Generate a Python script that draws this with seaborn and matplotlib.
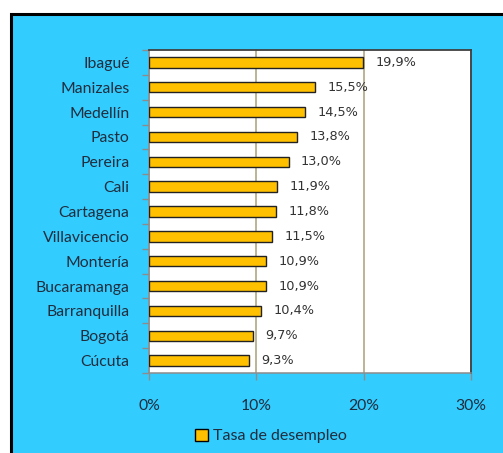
import numpy as np
import seaborn as sns
import matplotlib.pyplot as plt
from matplotlib.patches import Rectangle, Patch

# Tasa de desempleo por ciudad (%)
ciudades = ['Ibagué', 'Manizales', 'Medellín', 'Pasto', 'Pereira', 'Cali',
            'Cartagena', 'Villavicencio', 'Montería', 'Bucaramanga',
            'Barranquilla', 'Bogotá', 'Cúcuta']
tasa = [19.9, 15.5, 14.5, 13.8, 13.0, 11.9, 11.8, 11.5, 10.9, 10.9, 10.4, 9.7, 9.3]
x_ticks = [0, 10, 20, 30]
x_tick_labels = ['0%', '10%', '20%', '30%']

sns.set_theme(style="white")
plt.rcParams['font.family'] = ['Lato', 'DejaVu Sans']

fig = plt.figure(figsize=(5.03, 4.53), dpi=100)
fig.patch.set_facecolor('white')

# fondo azul del gráfico con borde negro
fondo = Rectangle((11 / 503, -0.05), 1.0, 1.05 - 14 / 453, transform=fig.transFigure,
                  facecolor='#33CCFF', edgecolor='black', linewidth=2.2, zorder=-5)
fig.add_artist(fondo)

ax = fig.add_axes([149 / 503, 1 - 373 / 453, 322 / 503, 323 / 453])
ax.set_zorder(1)
ax.set_facecolor('white')

sns.barplot(x=tasa, y=ciudades, orient='h', color='#FFC000', edgecolor='#222222',
            linewidth=1.0, width=0.42, saturation=1, ax=ax, zorder=3)

ax.set_xlim(0, 30)
ax.set_ylim(12.5, -0.5)
ax.set_xticks(x_ticks)
ax.set_xticklabels(x_tick_labels, fontsize=11.3, color='#1F2D3D')
ax.grid(axis='x', color='#A89F78', linewidth=1.1, zorder=1)
ax.grid(axis='y', visible=False)
ax.set_xlabel('')
ax.set_ylabel('')

# marcas del eje y entre categorías
ax.set_yticks(np.arange(-0.5, 13, 1), minor=True)
ax.tick_params(axis='y', which='major', length=0, pad=14, labelsize=11.3, labelcolor='#1F2D3D')
ax.tick_params(axis='y', which='minor', length=5, color='#8C8C8C', width=1, left=True)
ax.tick_params(axis='x', which='major', length=5, color='#8C8C8C', width=1, bottom=True,
               pad=14)

for s in ['left', 'bottom']:
    ax.spines[s].set_color('#8C8C8C')
    ax.spines[s].set_linewidth(1.1)
for s in ['top', 'right']:
    ax.spines[s].set_color('#404040')
    ax.spines[s].set_linewidth(1.3)

etiquetas = [f'{v:.1f}%'.replace('.', ',') for v in tasa]
ax.bar_label(ax.containers[0], labels=etiquetas, padding=9, fontsize=9.3,
             color='#333333', family='DejaVu Sans')

handle = Patch(facecolor='#FFC000', edgecolor='black', linewidth=1.0)
fig.legend([handle], ['Tasa de desempleo'], loc='center', bbox_to_anchor=(271 / 503, 1 - 436 / 453),
           frameon=False, fontsize=11.5, handlelength=0.8, handleheight=0.8,
           handletextpad=0.3, labelcolor='#1F2D3D')

plt.savefig('out.png', dpi=100, facecolor=fig.get_facecolor())
